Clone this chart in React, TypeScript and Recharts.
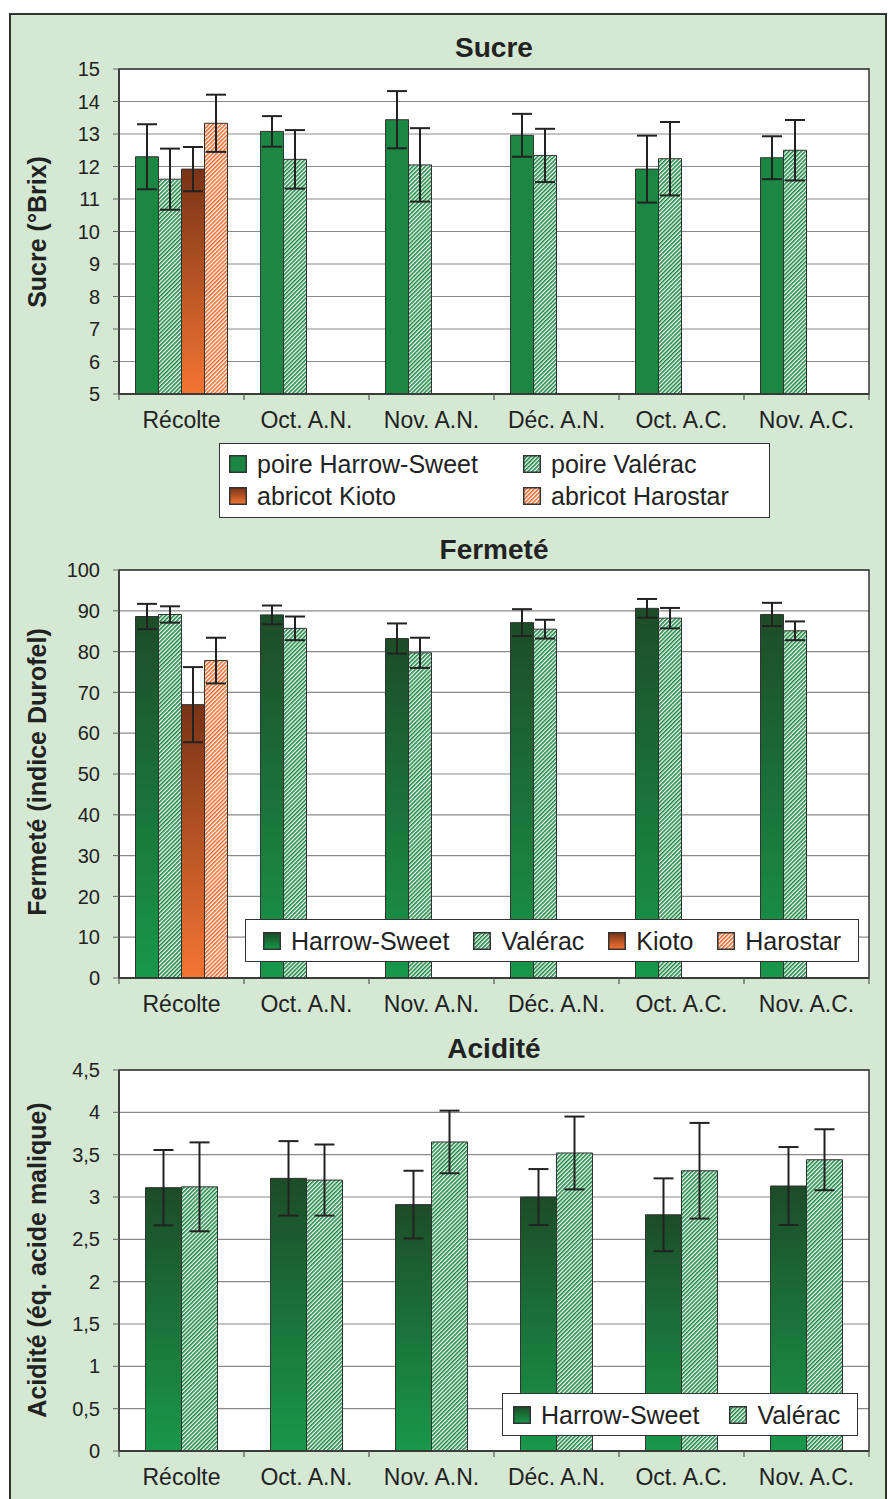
import React from 'react'
import { BarChart, Bar, XAxis, YAxis, CartesianGrid, ErrorBar, ReferenceArea } from 'recharts'

const FONT = '"Liberation Sans", Arial, Helvetica, sans-serif'

const CATEGORIES = ['Récolte', 'Oct. A.N.', 'Nov. A.N.', 'Déc. A.N.', 'Oct. A.C.', 'Nov. A.C.']

// Sucre (°Brix)
const SUCRE_TICKS = [5, 6, 7, 8, 9, 10, 11, 12, 13, 14, 15]
const SUCRE_HS = [12.3, 13.08, 13.44, 12.96, 11.92, 12.27]
const SUCRE_HS_ERR = [1.0, 0.47, 0.88, 0.66, 1.03, 0.66]
const SUCRE_VAL = [11.61, 12.22, 12.05, 12.34, 12.24, 12.5]
const SUCRE_VAL_ERR = [0.94, 0.9, 1.13, 0.82, 1.13, 0.93]
const SUCRE_KIOTO = [11.92, null, null, null, null, null]
const SUCRE_KIOTO_ERR = [0.68, null, null, null, null, null]
const SUCRE_HAROSTAR = [13.33, null, null, null, null, null]
const SUCRE_HAROSTAR_ERR = [0.88, null, null, null, null, null]

// Fermeté (indice Durofel)
const FERME_TICKS = [0, 10, 20, 30, 40, 50, 60, 70, 80, 90, 100]
const FERME_HS = [88.6, 89.0, 83.2, 87.1, 90.6, 89.1]
const FERME_HS_ERR = [3.1, 2.3, 3.7, 3.3, 2.3, 2.85]
const FERME_VAL = [89.1, 85.7, 79.7, 85.5, 88.2, 85.1]
const FERME_VAL_ERR = [2.0, 2.9, 3.7, 2.3, 2.5, 2.3]
const FERME_KIOTO = [67.0, null, null, null, null, null]
const FERME_KIOTO_ERR = [9.2, null, null, null, null, null]
const FERME_HAROSTAR = [77.8, null, null, null, null, null]
const FERME_HAROSTAR_ERR = [5.6, null, null, null, null, null]

// Acidité (éq. acide malique)
const ACID_TICKS = [0, 0.5, 1, 1.5, 2, 2.5, 3, 3.5, 4, 4.5]
const ACID_HS = [3.11, 3.22, 2.91, 3.0, 2.79, 3.13]
const ACID_HS_ERR = [0.445, 0.44, 0.4, 0.33, 0.43, 0.46]
const ACID_VAL = [3.12, 3.2, 3.65, 3.52, 3.31, 3.44]
const ACID_VAL_ERR = [0.525, 0.42, 0.37, 0.43, 0.565, 0.36]

const buildRows = (series: Record<string, (number | null)[]>) =>
  CATEGORIES.map((cat, i) => {
    const row: Record<string, any> = { cat }
    Object.keys(series).forEach(k => { row[k] = series[k][i] })
    return row
  })

const sucreData = buildRows({
  hs: SUCRE_HS, hsErr: SUCRE_HS_ERR, val: SUCRE_VAL, valErr: SUCRE_VAL_ERR,
  kio: SUCRE_KIOTO, kioErr: SUCRE_KIOTO_ERR, har: SUCRE_HAROSTAR, harErr: SUCRE_HAROSTAR_ERR,
})
const fermeData = buildRows({
  hs: FERME_HS, hsErr: FERME_HS_ERR, val: FERME_VAL, valErr: FERME_VAL_ERR,
  kio: FERME_KIOTO, kioErr: FERME_KIOTO_ERR, har: FERME_HAROSTAR, harErr: FERME_HAROSTAR_ERR,
})
const acidData = buildRows({ hs: ACID_HS, hsErr: ACID_HS_ERR, val: ACID_VAL, valErr: ACID_VAL_ERR })

type Serie = { key: string; err: string; fill: string }

function CatTick(props: any) {
  const { x, y, payload, index, width } = props
  const half = payload?.offset || width / CATEGORIES.length / 2
  return (
    <g>
      <line x1={x - half} y1={y} x2={x - half} y2={y + 6} stroke="#555" strokeWidth={1.2} />
      {index === CATEGORIES.length - 1 && (
        <line x1={x + half} y1={y} x2={x + half} y2={y + 6} stroke="#555" strokeWidth={1.2} />
      )}
      <text x={x} y={y + 34} textAnchor="middle" fontSize={23} fill="#222">{payload.value}</text>
    </g>
  )
}

function Panel({ top, height, marginTop, data, series, domain, ticks, gap, fmt }: {
  top: number; height: number; marginTop: number; data: any[]; series: Serie[]
  domain: [number, number]; ticks: number[]; gap: number; fmt?: (v: number) => string
}) {
  return (
    <div style={{ position: 'absolute', left: 0, top }}>
      <BarChart
        width={888}
        height={height}
        data={data}
        margin={{ top: marginTop, right: 19, bottom: 0, left: 59 }}
        barCategoryGap={gap}
        barGap={0}
      >
        <CartesianGrid vertical={false} fill="#fff" stroke="#8a8a8a" strokeWidth={1.2} />
        <XAxis
          dataKey="cat"
          height={46}
          interval={0}
          tickLine={false}
          tickSize={0}
          tickMargin={0}
          axisLine={{ stroke: '#333', strokeWidth: 1.5 }}
          tick={(p: any) => <CatTick {...p} />}
        />
        <YAxis
          width={60}
          type="number"
          domain={domain}
          ticks={ticks}
          interval={0}
          allowDataOverflow
          tickFormatter={fmt}
          tickSize={6}
          tickMargin={13}
          axisLine={{ stroke: '#333', strokeWidth: 1.5 }}
          tickLine={{ stroke: '#666' }}
          tick={{ fontSize: 20, fill: '#222' }}
        />
        <ReferenceArea
          x1={CATEGORIES[0]}
          x2={CATEGORIES[CATEGORIES.length - 1]}
          y1={domain[0]}
          y2={domain[1]}
          fill="none"
          fillOpacity={0}
          stroke="#333"
          strokeWidth={1.5}
        />
        {series.map(s => (
          <Bar key={s.key} dataKey={s.key} fill={s.fill} stroke="#333" strokeWidth={1} isAnimationActive={false}>
            <ErrorBar dataKey={s.err} width={10} stroke="#222" strokeWidth={2} />
          </Bar>
        ))}
      </BarChart>
    </div>
  )
}

function Swatch({ fill }: { fill: string }) {
  return (
    <svg width={18} height={18} style={{ display: 'block', flex: 'none' }}>
      <rect x={0.75} y={0.75} width={16.5} height={16.5} fill={fill} stroke="#333" strokeWidth={1.5} />
    </svg>
  )
}

function LegendItem({ label, fill }: { label: string; fill: string }) {
  return (
    <div style={{ display: 'flex', alignItems: 'center', gap: 10, whiteSpace: 'nowrap' }}>
      <Swatch fill={fill} />
      <span>{label}</span>
    </div>
  )
}

const boxStyle: React.CSSProperties = {
  position: 'absolute',
  background: '#fff',
  border: '1.5px solid #333',
  boxSizing: 'border-box',
  fontSize: 25,
  color: '#222',
  lineHeight: '30px',
}

export default function App() {
  return (
    <div style={{ position: 'absolute', left: 0, top: 0, width: 888, height: 1499, fontFamily: FONT, overflow: 'hidden' }}>
      <svg width={0} height={0} style={{ position: 'absolute' }}>
        <defs>
          <linearGradient id="gradHS" x1="0" y1="0" x2="0" y2="1">
            <stop offset="0" stopColor="#1d4c28" />
            <stop offset="1" stopColor="#18984a" />
          </linearGradient>
          <linearGradient id="gradKioto" x1="0" y1="0" x2="0" y2="1">
            <stop offset="0" stopColor="#783316" />
            <stop offset="1" stopColor="#f47533" />
          </linearGradient>
          <pattern id="hatchGreen" width="2.9" height="2.9" patternUnits="userSpaceOnUse" patternTransform="rotate(45)">
            <rect width="2.9" height="2.9" fill="#fff" />
            <rect width="1.6" height="2.9" fill="#1b8742" />
          </pattern>
          <pattern id="hatchOrange" width="2.9" height="2.9" patternUnits="userSpaceOnUse" patternTransform="rotate(45)">
            <rect width="2.9" height="2.9" fill="#fff" />
            <rect width="1.6" height="2.9" fill="#f06a2c" />
          </pattern>
        </defs>
      </svg>

      <div style={{
        position: 'absolute', left: 9, top: 13, width: 878, height: 1490,
        background: '#d4e8d3', border: '2px solid #333', boxSizing: 'border-box',
      }} />

      <Panel
        top={0}
        height={440}
        marginTop={69}
        data={sucreData}
        domain={[5, 15]}
        ticks={SUCRE_TICKS}
        gap={16.5}
        series={[
          { key: 'hs', err: 'hsErr', fill: '#1b8742' },
          { key: 'val', err: 'valErr', fill: 'url(#hatchGreen)' },
          { key: 'kio', err: 'kioErr', fill: 'url(#gradKioto)' },
          { key: 'har', err: 'harErr', fill: 'url(#hatchOrange)' },
        ]}
      />
      <Panel
        top={530}
        height={494}
        marginTop={40}
        data={fermeData}
        domain={[0, 100]}
        ticks={FERME_TICKS}
        gap={16.5}
        series={[
          { key: 'hs', err: 'hsErr', fill: 'url(#gradHS)' },
          { key: 'val', err: 'valErr', fill: 'url(#hatchGreen)' },
          { key: 'kio', err: 'kioErr', fill: 'url(#gradKioto)' },
          { key: 'har', err: 'harErr', fill: 'url(#hatchOrange)' },
        ]}
      />
      <Panel
        top={1030}
        height={467}
        marginTop={40}
        data={acidData}
        domain={[0, 4.5]}
        ticks={ACID_TICKS}
        gap={26.5}
        fmt={(v: number) => String(v).replace('.', ',')}
        series={[
          { key: 'hs', err: 'hsErr', fill: 'url(#gradHS)' },
          { key: 'val', err: 'valErr', fill: 'url(#hatchGreen)' },
        ]}
      />

      {/* titles and axis labels */}
      <svg width={888} height={1499} style={{ position: 'absolute', left: 0, top: 0, pointerEvents: 'none' }}>
        <g fontFamily={FONT} fontWeight="bold" fill="#222">
          <text x={494} y={57} fontSize={28} textAnchor="middle">Sucre</text>
          <text x={494} y={559} fontSize={28} textAnchor="middle">Fermeté</text>
          <text x={494} y={1058} fontSize={28} textAnchor="middle">Acidité</text>
          <text x={46} y={232} fontSize={25} textAnchor="middle" transform="rotate(-90 46 232)">Sucre (°Brix)</text>
          <text x={46} y={772} fontSize={25} textAnchor="middle" transform="rotate(-90 46 772)">Fermeté (indice Durofel)</text>
          <text x={46} y={1260} fontSize={25} textAnchor="middle" transform="rotate(-90 46 1260)">Acidité (éq. acide malique)</text>
        </g>
      </svg>

      {/* legends */}
      <div style={{ ...boxStyle, left: 219, top: 443, width: 551, height: 75 }}>
        <div style={{ position: 'absolute', left: 9, top: 5 }}><LegendItem label="poire Harrow-Sweet" fill="#1b8742" /></div>
        <div style={{ position: 'absolute', left: 303, top: 5 }}><LegendItem label="poire Valérac" fill="url(#hatchGreen)" /></div>
        <div style={{ position: 'absolute', left: 9, top: 37 }}><LegendItem label="abricot Kioto" fill="url(#gradKioto)" /></div>
        <div style={{ position: 'absolute', left: 303, top: 37 }}><LegendItem label="abricot Harostar" fill="url(#hatchOrange)" /></div>
      </div>
      <div style={{ ...boxStyle, left: 245, top: 919, width: 614, height: 43, display: 'flex', alignItems: 'center', paddingLeft: 17, gap: 24 }}>
        <LegendItem label="Harrow-Sweet" fill="url(#gradHS)" />
        <LegendItem label="Valérac" fill="url(#hatchGreen)" />
        <LegendItem label="Kioto" fill="url(#gradKioto)" />
        <LegendItem label="Harostar" fill="url(#hatchOrange)" />
      </div>
      <div style={{ ...boxStyle, left: 502, top: 1393, width: 356, height: 43, display: 'flex', alignItems: 'center', paddingLeft: 10, gap: 30 }}>
        <LegendItem label="Harrow-Sweet" fill="url(#gradHS)" />
        <LegendItem label="Valérac" fill="url(#hatchGreen)" />
      </div>
    </div>
  )
}
